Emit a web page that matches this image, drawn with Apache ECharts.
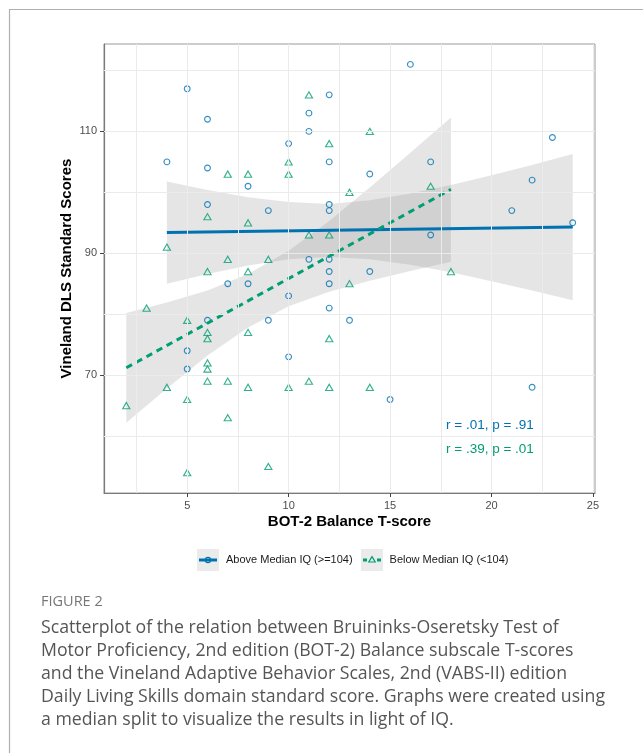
<!DOCTYPE html>
<html><head><meta charset="utf-8">
<script src="https://cdn.jsdelivr.net/npm/echarts@6/dist/echarts.min.js"></script>
<style>html,body{margin:0;padding:0;background:#fff}#c{width:643px;height:753px}</style>
</head><body><div id="c"></div>
<script>
// ---------- data ----------
const aboveMedianName = 'Above Median IQ (>=104)';
const belowMedianName = 'Below Median IQ (<104)';

const aboveMedian = [[5,117],[12,116],[6,112],[11,113],[11,110],[10,108],[4,105],[6,104],[12,105],[8,101],[6,98],[9,97],[12,98],[12,97],[11,89],[12,89],[16,121],[23,109],[17,105],[14,103],[22,102],[21,97],[24,95],[17,93],[12,87],[7,85],[8,85],[12,85],[10,83],[12,81],[13,79],[6,79],[9,79],[5,74],[10,73],[5,71],[14,87],[15,66],[22,68]];
const belowMedian = [[11,116],[12,108],[7,103],[8,103],[10,105],[10,103],[6,96],[8,95],[13,100],[11,93],[12,93],[4,91],[7,89],[9,89],[14,110],[17,101],[6,87],[8,87],[13,85],[3,81],[5,79],[6,77],[6,76],[8,77],[12,76],[6,72],[6,71],[4,68],[6,69],[7,69],[8,68],[10,68],[11,69],[12,68],[2,65],[5,66],[7,63],[5,54],[9,55],[18,87],[14,68]];

const aboveFitX = [4, 24];
const aboveFitY = [93.4, 94.3];
const belowFitX = [2, 18];
const belowFitY = [71.2, 100.5];

const aboveBandX    = [4, 6, 8, 10, 12, 14, 16, 18, 20, 22, 24];
const aboveBandLow  = [85.0, 86.6, 88.0, 89.0, 89.4, 89.0, 88.1, 86.9, 85.4, 83.9, 82.3];
const aboveBandHigh = [101.8, 100.4, 99.2, 98.4, 98.1, 98.7, 99.8, 101.2, 102.8, 104.5, 106.3];

const belowBandX    = [2, 4, 6, 8, 10, 12, 14, 16, 18];
const belowBandLow  = [62.2, 67.8, 73.2, 77.8, 81.3, 83.7, 85.5, 87.1, 88.6];
const belowBandHigh = [80.2, 81.9, 83.9, 86.6, 90.4, 95.3, 100.8, 106.5, 112.3];

const xTicks = [5, 10, 15, 20, 25];
const yTicks = [70, 90, 110];
const xGrid = [2.5, 5, 7.5, 10, 12.5, 15, 17.5, 20, 22.5, 25];
const yGrid = [60, 70, 80, 90, 100, 110, 120];

const statAbove = 'r = .01, p = .91';
const statBelow = 'r = .39, p = .01';

const captionLabel = 'FIGURE 2';
const captionLines = [
  'Scatterplot of the relation between Bruininks-Oseretsky Test of',
  'Motor Proficiency, 2nd edition (BOT-2) Balance subscale T-scores',
  'and the Vineland Adaptive Behavior Scales, 2nd (VABS-II) edition',
  'Daily Living Skills domain standard score. Graphs were created using',
  'a median split to visualize the results in light of IQ.'
];

// ---------- styling ----------
const BLUE = '#0072B2';
const GREEN = '#009E73';
const FONT = '"Liberation Sans", Arial, Helvetica, sans-serif';
const CAPFONT = '"Open Sans", "Noto Sans", sans-serif';

const chart = echarts.init(document.getElementById('c'), null, {renderer: 'canvas'});

function bandSeries(xs, lo, hi) {
  return {
    type: 'custom', z: 2, silent: true,
    data: xs.map((x, i) => [x, lo[i], hi[i]]),
    encode: {x: 0, y: [1, 2]},
    renderItem(params, api) {
      if (params.dataIndex !== 0) return null;
      const top = xs.map((x, i) => api.coord([x, hi[i]]));
      const bot = xs.map((x, i) => api.coord([x, lo[i]])).reverse();
      return {type: 'polygon', shape: {points: top.concat(bot)},
              style: {fill: 'rgba(153,153,153,0.25)'}};
    }
  };
}

const graphics = [
  {type: 'rect', shape: {x: 9.5, y: 9.5, width: 700, height: 800},
   style: {fill: 'none', stroke: '#b0b0b0', lineWidth: 1.2}, z: 0},
  // stats annotations
  {type: 'text', x: 446, y: 425, style: {text: statAbove, fill: BLUE, font: '13.5px ' + FONT, verticalAlign: 'middle'}},
  {type: 'text', x: 446, y: 449, style: {text: statBelow, fill: GREEN, font: '13.5px ' + FONT, verticalAlign: 'middle'}},
  // legend
  {type: 'rect', shape: {x: 197, y: 549, width: 22, height: 22}, style: {fill: '#ebebeb'}},
  {type: 'line', shape: {x1: 199, y1: 560, x2: 217, y2: 560}, style: {stroke: BLUE, lineWidth: 3}},
  {type: 'circle', shape: {cx: 208, cy: 560, r: 2.6}, style: {fill: 'none', stroke: BLUE, lineWidth: 1.2}},
  {type: 'text', x: 226, y: 560, style: {text: aboveMedianName, fill: '#1a1a1a', font: '11px ' + FONT, verticalAlign: 'middle'}},
  {type: 'rect', shape: {x: 361, y: 549, width: 22, height: 22}, style: {fill: '#ebebeb'}},
  {type: 'line', shape: {x1: 363, y1: 560, x2: 381, y2: 560}, style: {stroke: GREEN, lineWidth: 3, lineDash: [4, 3]}},
  {type: 'polygon', shape: {points: [[372, 556.6], [375.2, 562], [368.8, 562]]}, style: {fill: '#ebebeb', stroke: GREEN, lineWidth: 1.2}},
  {type: 'text', x: 389.6, y: 560, style: {text: belowMedianName, fill: '#1a1a1a', font: '11px ' + FONT, verticalAlign: 'middle'}},
  // caption
  {type: 'text', x: 41, y: 602, style: {text: captionLabel, fill: '#777', font: '14.5px ' + CAPFONT, verticalAlign: 'middle'}}
];
captionLines.forEach((t, i) => {
  graphics.push({type: 'text', x: 41, y: 628 + i * 23,
    style: {text: t, fill: '#555', font: '17.7px ' + CAPFONT, verticalAlign: 'middle'}});
});

const option = {
  backgroundColor: '#fff',
  animation: false,
  grid: {left: 104, top: 44, width: 491, height: 449, show: true,
         borderColor: '#9a9a9a', borderWidth: 1, backgroundColor: '#fff'},
  xAxis: {
    type: 'value', min: 0.9, max: 25.1,
    name: 'BOT-2 Balance T-score', nameLocation: 'middle', nameGap: 21, nameMoveOverlap: false,
    nameTextStyle: {fontFamily: FONT, fontSize: 15, fontWeight: 'bold', color: '#000', verticalAlign: 'top'},
    axisLine: {show: true, lineStyle: {color: '#7a7a7a', width: 1.2}},
    axisTick: {show: true, length: 4, customValues: xTicks, lineStyle: {color: '#444'}},
    axisLabel: {customValues: xTicks, color: '#4d4d4d', fontSize: 11, fontFamily: FONT, margin: 7},
    splitLine: {show: false}
  },
  yAxis: {
    type: 'value', min: 50.65, max: 124.35,
    name: 'Vineland DLS Standard Scores', nameLocation: 'middle', nameGap: 30, nameRotate: 90,
    nameMoveOverlap: false,
    nameTextStyle: {fontFamily: FONT, fontSize: 15, fontWeight: 'bold', color: '#000', verticalAlign: 'bottom'},
    axisLine: {show: true, lineStyle: {color: '#7a7a7a', width: 1.2}},
    axisTick: {show: true, length: 4, customValues: yTicks, lineStyle: {color: '#444'}},
    axisLabel: {customValues: yTicks, color: '#4d4d4d', fontSize: 11, fontFamily: FONT, margin: 7},
    splitLine: {show: false}
  },
  series: [
    {
      type: 'line', z: 1, silent: true, data: [],
      markLine: {
        silent: true, symbol: 'none', label: {show: false},
        lineStyle: {color: '#ebebeb', width: 1, type: 'solid'},
        data: xGrid.map(v => ({xAxis: v})).concat(yGrid.map(v => ({yAxis: v})))
      }
    },
    {
      name: aboveMedianName, type: 'scatter', z: 3, data: aboveMedian,
      symbol: 'circle', symbolSize: 5.8,
      itemStyle: {color: 'rgba(0,0,0,0)', borderColor: BLUE, borderWidth: 1.1}
    },
    {
      name: belowMedianName, type: 'scatter', z: 3, data: belowMedian,
      symbol: 'triangle', symbolSize: [7.2, 6.2],
      itemStyle: {color: 'rgba(0,0,0,0)', borderColor: GREEN, borderWidth: 1.1}
    },
    bandSeries(aboveBandX, aboveBandLow, aboveBandHigh),
    bandSeries(belowBandX, belowBandLow, belowBandHigh),
    {
      name: aboveMedianName, type: 'line', z: 4, symbol: 'none', silent: true,
      data: aboveFitX.map((x, i) => [x, aboveFitY[i]]),
      lineStyle: {color: BLUE, width: 3}
    },
    {
      name: belowMedianName, type: 'line', z: 4, symbol: 'none', silent: true,
      data: belowFitX.map((x, i) => [x, belowFitY[i]]),
      lineStyle: {color: GREEN, width: 3, type: [6.5, 5]}
    }
  ],
  graphic: {elements: graphics}
};
chart.setOption(option);
</script></body></html>
